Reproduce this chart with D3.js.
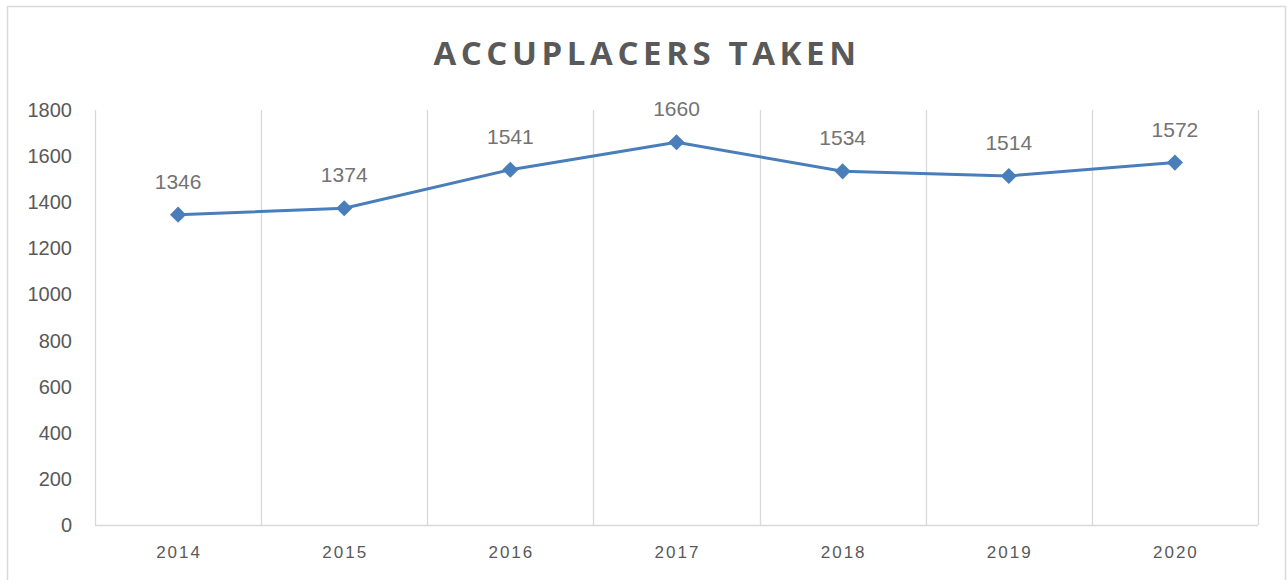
<!DOCTYPE html>
<html lang="en">
<head>
  <meta charset="UTF-8">
  <title>Accuplacers Taken</title>
  <style>
    * { box-sizing: border-box; margin: 0; }
    body { background: #fff; overflow: hidden; }
    svg { display: block; }
    .title { font: bold 33px "Open Sans", sans-serif; fill: #595959; letter-spacing: 4.6px; }
    .ylab { font: 20px "Liberation Sans", Arial, sans-serif; fill: #595959; }
    .xlab { font: 17px "Liberation Sans", Arial, sans-serif; fill: #595959; letter-spacing: 2px; }
    .dlab { font: 21px "Liberation Sans", Arial, sans-serif; fill: #737373; }
  </style>
</head>
<body>
  <svg></svg>
  <script src="https://d3js.org/d3.v7.min.js"></script>
  <script>
    const years = ['2014', '2015', '2016', '2017', '2018', '2019', '2020'];
    const taken = [1346, 1374, 1541, 1660, 1534, 1514, 1572];
    const yTicks = [0, 200, 400, 600, 800, 1000, 1200, 1400, 1600, 1800];

    const width = 1287;
    const height = 580;
    const margin = {top: 110, right: 29, bottom: 55, left: 95};

    const svg = d3.select('svg')
      .attr('width', width)
      .attr('height', height);

    // outer chart frame
    svg.append('rect')
      .attr('x', 7.5).attr('y', 6.5)
      .attr('width', 1278).attr('height', 590)
      .attr('fill', 'none')
      .attr('stroke', '#d9d9d9')
      .attr('stroke-width', 1.5);

    svg.append('text')
      .attr('class', 'title')
      .attr('x', 647)
      .attr('y', 65)
      .attr('text-anchor', 'middle')
      .text('ACCUPLACERS TAKEN');

    const x = d3.scaleBand()
      .domain(years)
      .range([margin.left, width - margin.right]);

    const y = d3.scaleLinear()
      .domain([0, 1800])
      .range([height - margin.bottom, margin.top]);

    // vertical gridlines on category boundaries
    const bounds = years.map(d => x(d)).concat([x.range()[1]]);
    svg.append('g')
      .selectAll('line')
      .data(bounds)
      .join('line')
      .attr('x1', d => Math.round(d) + 0.5)
      .attr('x2', d => Math.round(d) + 0.5)
      .attr('y1', y(1800))
      .attr('y2', y(0))
      .attr('stroke', '#d9d9d9')
      .attr('stroke-width', 1.3);

    // category axis baseline
    svg.append('line')
      .attr('x1', x.range()[0]).attr('x2', x.range()[1])
      .attr('y1', y(0) + 0.5).attr('y2', y(0) + 0.5)
      .attr('stroke', '#d9d9d9')
      .attr('stroke-width', 1.5);

    svg.append('g')
      .selectAll('text')
      .data(yTicks)
      .join('text')
      .attr('class', 'ylab')
      .attr('x', 72)
      .attr('y', d => y(d) + 7)
      .attr('text-anchor', 'end')
      .text(d => d);

    svg.append('g')
      .selectAll('text')
      .data(years)
      .join('text')
      .attr('class', 'xlab')
      .attr('x', d => x(d) + x.bandwidth() / 2 + 1)
      .attr('y', 558)
      .attr('text-anchor', 'middle')
      .text(d => d);

    const cx = (d, i) => x(years[i]) + x.bandwidth() / 2;

    const line = d3.line()
      .x((d, i) => cx(d, i))
      .y(d => y(d));

    svg.append('path')
      .datum(taken)
      .attr('d', line)
      .attr('fill', 'none')
      .attr('stroke', '#4a7ebb')
      .attr('stroke-width', 3)
      .attr('stroke-linejoin', 'round');

    svg.append('g')
      .selectAll('path')
      .data(taken)
      .join('path')
      .attr('d', d3.symbol(d3.symbolSquare, 130))
      .attr('transform', (d, i) => 'translate(' + cx(d, i) + ',' + y(d) + ') rotate(45)')
      .attr('fill', '#4a7ebb');

    svg.append('g')
      .selectAll('text')
      .data(taken)
      .join('text')
      .attr('class', 'dlab')
      .attr('x', (d, i) => cx(d, i))
      .attr('y', d => y(d) - 26)
      .attr('text-anchor', 'middle')
      .text(d => d);
  </script>
</body>
</html>
